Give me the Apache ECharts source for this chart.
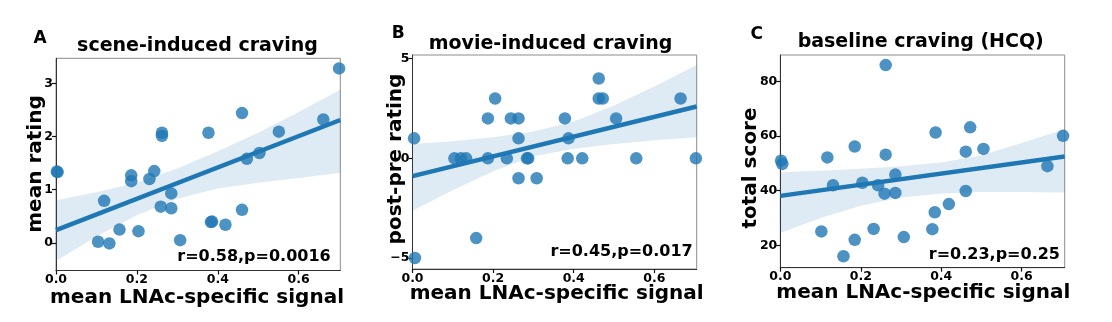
<!DOCTYPE html>
<html><head><meta charset="utf-8">
<script src="https://cdn.jsdelivr.net/npm/echarts@6/dist/echarts.min.js"></script>
<style>html,body{margin:0;padding:0;background:#fff}#c{width:1112px;height:322px}</style>
</head><body><div id="c"></div>
<script>
// ---------- data ----------
const xTicks = [0, 0.2, 0.4, 0.6];
const aTicks = [0, 1, 2, 3];
const bTicks = [-5, 0, 5];
const cTicks = [20, 40, 60, 80];

const titles = ['scene-induced craving', 'movie-induced craving', 'baseline craving (HCQ)'];
const letters = ['A', 'B', 'C'];
const yNames = ['mean rating', 'post-pre rating', 'total score'];
const xName = 'mean LNAc-specific signal';
const stats = ['r=0.58,p=0.0016', 'r=0.45,p=0.017', 'r=0.23,p=0.25'];

// Panel A: scene-induced craving (mean rating)
const aX = [0.002, 0.004, 0.104, 0.132, 0.157, 0.204, 0.119, 0.186, 0.186, 0.231, 0.243, 0.262, 0.262, 0.259, 0.285, 0.285, 0.307,
            0.377, 0.460, 0.551, 0.661, 0.700, 0.472, 0.503, 0.460, 0.383, 0.386, 0.419];
const aY = [1.34, 1.33, 0.02, -0.01, 0.25, 0.22, 0.79, 1.27, 1.16, 1.20, 1.35, 2.07, 2.01, 0.68, 0.93, 0.65, 0.05,
            2.07, 2.44, 2.09, 2.32, 3.28, 1.58, 1.69, 0.62, 0.39, 0.40, 0.34];
// Panel B: movie-induced craving (post-pre rating)
const bX = [0.004, 0.006, 0.104, 0.120, 0.133, 0.158, 0.187, 0.187, 0.205, 0.234, 0.244, 0.263, 0.263, 0.263, 0.284, 0.287, 0.308,
            0.378, 0.387, 0.385, 0.421, 0.462, 0.462, 0.472, 0.505, 0.555, 0.665, 0.703];
const bY = [1, -5, 0, 0, 0, -4, 2, 0, 3, 0, 2, 2, 1, -1, 0, 0, -1,
            2, 1, 0, 0, 4, 3, 3, 2, 0, 3, 0];
// Panel C: baseline craving (HCQ total score)
const cX = [0.002, 0.005, 0.102, 0.117, 0.131, 0.157, 0.185, 0.185, 0.204, 0.232, 0.243, 0.262, 0.262, 0.259, 0.286, 0.286, 0.307,
            0.378, 0.384, 0.386, 0.419, 0.461, 0.461, 0.472, 0.505, 0.664, 0.703];
const cY = [51.0, 49.8, 25.1, 52.2, 42.0, 16.0, 56.2, 22.0, 42.9, 26.0, 42.0, 86.0, 53.2, 38.9, 45.9, 39.2, 23.0,
            25.9, 32.1, 61.3, 35.1, 54.3, 39.9, 63.2, 55.3, 49.0, 60.1];

// regression lines
const aLineX = [0, 0.703], aLineY = [0.24, 2.31];
const bLineX = [0, 0.705], bLineY = [-0.89, 2.60];
const cLineX = [0, 0.707], cLineY = [38.1, 52.5];

// confidence bands
const aBandX = [0, 0.1, 0.2, 0.3, 0.4, 0.5, 0.6, 0.703];
const aBandLo = [-0.34, 0.12, 0.52, 0.83, 1.02, 1.13, 1.22, 1.32];
const aBandHi = [0.80, 0.95, 1.13, 1.40, 1.72, 2.07, 2.46, 2.88];
const bBandX = [0, 0.1, 0.2, 0.3, 0.4, 0.5, 0.6, 0.705];
const bBandLo = [-2.63, -1.60, -0.65, 0.10, 0.48, 0.72, 0.90, 1.05];
const bBandHi = [0.72, 0.85, 1.05, 1.35, 1.85, 2.65, 3.60, 4.68];
const cBandX = [0, 0.1, 0.2, 0.3, 0.4, 0.5, 0.6, 0.707];
const cBandLo = [24.5, 30.0, 34.5, 37.5, 39.0, 39.5, 39.5, 39.3];
const cBandHi = [46.8, 47.3, 48.0, 49.0, 50.3, 53.0, 57.5, 62.5];

// ---------- layout ----------
const FONT = 'DejaVu Sans';
const BLUE = '#1f77b4';
const grids = [
  {left: 56, top: 58.3, width: 284.3, height: 212.2},
  {left: 412.5, top: 55, width: 284.2, height: 214},
  {left: 780.3, top: 55, width: 284.4, height: 212.7}
];
const xRanges = [[0, 0.703], [0, 0.705], [0, 0.707]];
const yRanges = [[-0.52, 3.47], [-5.55, 5.18], [11.8, 89.7]];
const yTickSets = [aTicks, bTicks, cTicks];

const chart = echarts.init(document.getElementById('c'), null, {renderer: 'canvas'});

const axisCommon = (ticks, fmt) => ({
  type: 'value',
  axisLine: {show: true, onZero: false, lineStyle: {color: '#333', width: 1}},
  axisTick: {show: true, length: 4, customValues: ticks, lineStyle: {color: '#111', width: 1.2}},
  axisLabel: {customValues: ticks, formatter: fmt, fontFamily: FONT, fontWeight: 'bold', fontSize: 12.5, color: '#000', margin: 3},
  splitLine: {show: false}
});

const xAxes = grids.map((g, i) => Object.assign(axisCommon(xTicks, v => v.toFixed(1)), {
  gridIndex: i, min: xRanges[i][0], max: xRanges[i][1]
}));
const yAxes = grids.map((g, i) => Object.assign(axisCommon(yTickSets[i], v => v < 0 ? '\u2212' + Math.abs(v) : String(v)), {
  gridIndex: i, min: yRanges[i][0], max: yRanges[i][1]
}));

function bandSeries(i, xs, lo, hi) {
  return {
    type: 'custom', xAxisIndex: i, yAxisIndex: i, silent: true, z: 1,
    data: xs.map((x, k) => [x, lo[k], hi[k]]),
    encode: {x: 0, y: [1, 2]},
    renderItem: (params, api) => {
      if (params.dataIndex !== 0) return null;
      const pts = [];
      for (let k = 0; k < xs.length; k++) pts.push(api.coord([xs[k], hi[k]]));
      for (let k = xs.length - 1; k >= 0; k--) pts.push(api.coord([xs[k], lo[k]]));
      return {type: 'polygon', shape: {points: pts}, style: {fill: 'rgba(31,119,180,0.15)'}};
    }
  };
}
function scatterSeries(i, xs, ys) {
  return {type: 'scatter', xAxisIndex: i, yAxisIndex: i, z: 2, symbolSize: 12.5,
    itemStyle: {color: BLUE, opacity: 0.8}, data: xs.map((x, k) => [x, ys[k]])};
}
function lineSeries(i, xs, ys) {
  return {type: 'line', xAxisIndex: i, yAxisIndex: i, z: 3, showSymbol: false, silent: true,
    lineStyle: {color: BLUE, width: 4.5}, data: xs.map((x, k) => [x, ys[k]])};
}

const txt = (text, x, y, size, opts) => Object.assign({
  type: 'text', x: x, y: y, silent: true,
  style: {text: text, fontFamily: FONT, fontWeight: 'bold', fontSize: size, fill: '#000', align: 'center', verticalAlign: 'middle'}
}, opts || {});

const titlePos = [[197.5, 46], [550.5, 44], [920.7, 41.7]];
const letterPos = [[40, 38.3], [398.3, 34], [756.7, 35]];
const xNamePos = [[197, 297.7], [556.7, 293.3], [923.3, 292.7]];
const yNamePos = [[35.8, 164], [396, 159], [750.5, 168]];
const statPos = [[330.7, 257.3], [692.7, 252.3], [1060, 255]];

const graphics = [];
for (let i = 0; i < 3; i++) {
  graphics.push(txt(titles[i], titlePos[i][0], titlePos[i][1], 19));
  graphics.push(txt(letters[i], letterPos[i][0], letterPos[i][1], 17));
  graphics.push(txt(xName, xNamePos[i][0], xNamePos[i][1], 20));
  graphics.push(txt(yNames[i], yNamePos[i][0], yNamePos[i][1], 20, {rotation: Math.PI / 2}));
  const s = txt(stats[i], statPos[i][0], statPos[i][1], 16);
  s.style.align = 'right';
  graphics.push(s);
}

chart.setOption({
  animation: false,
  backgroundColor: '#fff',
  grid: grids.map(g => Object.assign({show: true, borderColor: '#8c8c8c', borderWidth: 1, backgroundColor: 'transparent'}, g)),
  xAxis: xAxes,
  yAxis: yAxes,
  series: [
    bandSeries(0, aBandX, aBandLo, aBandHi), scatterSeries(0, aX, aY), lineSeries(0, aLineX, aLineY),
    bandSeries(1, bBandX, bBandLo, bBandHi), scatterSeries(1, bX, bY), lineSeries(1, bLineX, bLineY),
    bandSeries(2, cBandX, cBandLo, cBandHi), scatterSeries(2, cX, cY), lineSeries(2, cLineX, cLineY)
  ],
  graphic: graphics
});
</script>
</body></html>
